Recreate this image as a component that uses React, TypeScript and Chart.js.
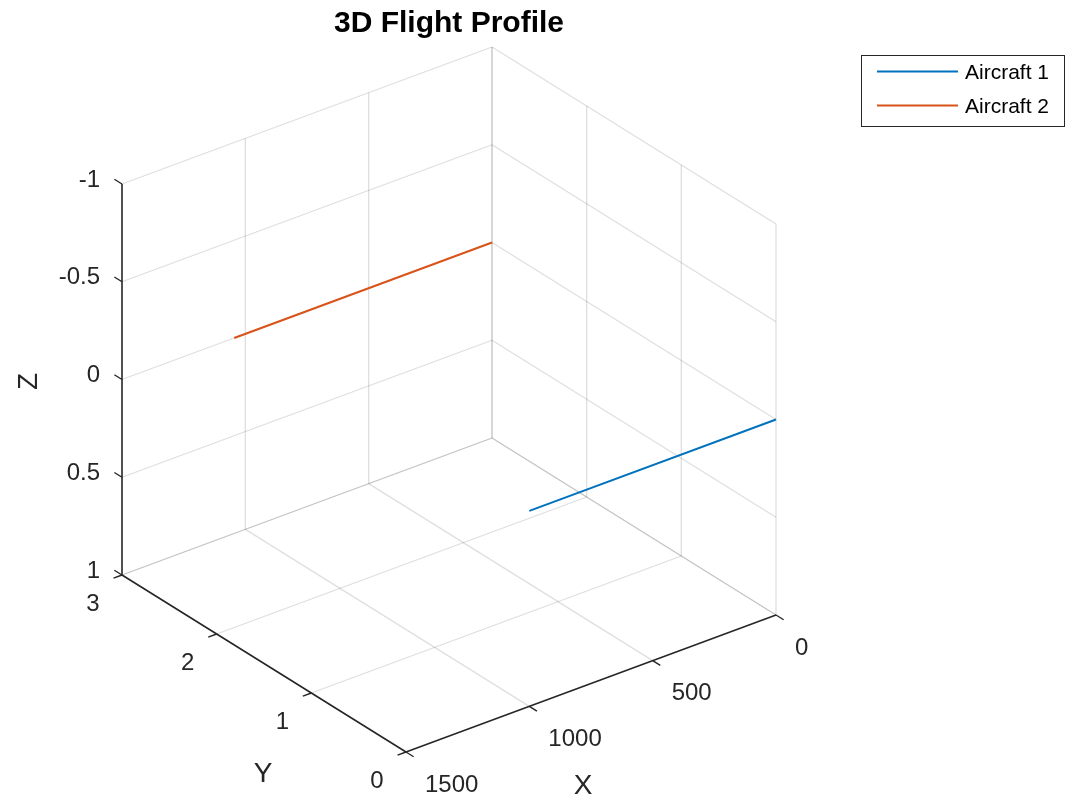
import React, { useEffect, useRef } from "react";
import { Chart, registerables } from "chart.js";

Chart.register(...registerables);

// ---------- data ----------
const chartTitle = "3D Flight Profile";
const xTicks = [0, 500, 1000, 1500];
const xTickLabels = ["0", "500", "1000", "1500"];
const yTicks = [0, 1, 2, 3];
const yTickLabels = ["0", "1", "2", "3"];
const zTicks = [-1, -0.5, 0, 0.5, 1];
const zTickLabels = ["-1", "-0.5", "0", "0.5", "1"];
const seriesNames = ["Aircraft 1", "Aircraft 2"];
const aircraft1X = [0, 1000];
const aircraft1Y = [0, 0];
const aircraft1Z = [0, 0];
const aircraft2X = [0, 1045];
const aircraft2Y = [3, 3];
const aircraft2Z = [0, 0];

// ---------- styling / view ----------
const W = 1070;
const H = 802;
const COLORS = ["#0072BD", "#D95319"];
const TEXT = "#262626";
const AXIS = "#262626";
const GRID = "rgba(38,38,38,0.15)";
const FONT = "'Liberation Sans', Arial, Helvetica, sans-serif";

const xLim = [0, 1500];
const yLim = [0, 3];
const zLim = [-1, 1];
// screen position of the back-bottom corner (x = xMin, y = yMax, z = zMax; z reversed)
const ORIGIN = [492, 438];
// screen displacement for the full span of each axis (from that corner)
const SPAN_X = [-370, 137];
const SPAN_Y = [284, 177];
const SPAN_Z = [0, -391];

function proj(X: number, Y: number, Z: number): [number, number] {
  const fx = (X - xLim[0]) / (xLim[1] - xLim[0]);
  const fy = (yLim[1] - Y) / (yLim[1] - yLim[0]);
  const fz = (zLim[1] - Z) / (zLim[1] - zLim[0]);
  return [
    ORIGIN[0] + fx * SPAN_X[0] + fy * SPAN_Y[0] + fz * SPAN_Z[0],
    ORIGIN[1] + fx * SPAN_X[1] + fy * SPAN_Y[1] + fz * SPAN_Z[1],
  ];
}

function toPoints(xs: number[], ys: number[], zs: number[]) {
  return xs.map((x, i) => {
    const [a, b] = proj(x, ys[i], zs[i]);
    return { x: a, y: b };
  });
}

function unit(v: number[]) {
  const l = Math.hypot(v[0], v[1]);
  return [v[0] / l, v[1] / l];
}

const axes3dPlugin = {
  id: "axes3d",
  beforeDatasetsDraw(chart: any) {
    const ctx: CanvasRenderingContext2D = chart.ctx;
    const sx = chart.scales.x;
    const sy = chart.scales.y;
    const P = (X: number, Y: number, Z: number) => {
      const [a, b] = proj(X, Y, Z);
      return [sx.getPixelForValue(a), sy.getPixelForValue(b)];
    };
    const seg = (p: number[], q: number[]) => {
      ctx.beginPath();
      ctx.moveTo(p[0], p[1]);
      ctx.lineTo(q[0], q[1]);
      ctx.stroke();
    };
    const [x0, x1] = xLim;
    const [y0, y1] = yLim;
    const [z0, z1] = zLim;
    ctx.save();
    // grid lines
    ctx.strokeStyle = GRID;
    ctx.lineWidth = 1.3;
    // back wall y = yMax
    xTicks.forEach((x) => { if (x !== x1) seg(P(x, y1, z0), P(x, y1, z1)); });
    zTicks.forEach((z) => seg(P(x0, y1, z), P(x1, y1, z)));
    // back wall x = xMin
    yTicks.forEach((y) => seg(P(x0, y, z0), P(x0, y, z1)));
    zTicks.forEach((z) => seg(P(x0, y0, z), P(x0, y1, z)));
    // floor z = zMax
    xTicks.forEach((x) => { if (x !== x1) seg(P(x, y0, z1), P(x, y1, z1)); });
    yTicks.forEach((y) => { if (y !== y0) seg(P(x0, y, z1), P(x1, y, z1)); });

    // axis lines
    ctx.strokeStyle = AXIS;
    ctx.lineWidth = 1.6;
    seg(P(x1, y1, z0), P(x1, y1, z1)); // Z axis
    seg(P(x1, y0, z1), P(x1, y1, z1)); // Y axis
    seg(P(x0, y0, z1), P(x1, y0, z1)); // X axis

    // tick marks
    const TL = 9;
    const a = P(x1, y1, z0), b = P(x1, y1 + 1, z0);
    const dirY = unit([b[0] - a[0], b[1] - a[1]]);
    const c = P(x1, y0, z1), d = P(x1 + 1, y0, z1);
    const dirX = unit([d[0] - c[0], d[1] - c[1]]);
    const dirYneg = [-dirY[0], -dirY[1]];
    ctx.lineWidth = 1.4;
    zTicks.forEach((z) => {
      const p = P(x1, y1, z);
      seg(p, [p[0] + dirY[0] * TL, p[1] + dirY[1] * TL]);
    });
    yTicks.forEach((y) => {
      const p = P(x1, y, z1);
      seg(p, [p[0] + dirX[0] * TL, p[1] + dirX[1] * TL]);
    });
    xTicks.forEach((x) => {
      const p = P(x, y0, z1);
      seg(p, [p[0] + dirYneg[0] * TL, p[1] + dirYneg[1] * TL]);
    });

    // tick labels
    ctx.fillStyle = TEXT;
    ctx.font = `24px ${FONT}`;
    ctx.textBaseline = "middle";
    ctx.textAlign = "right";
    zTicks.forEach((z, i) => {
      const p = P(x1, y1, z);
      ctx.fillText(zTickLabels[i], p[0] - 22, p[1] - 4);
    });
    ctx.textAlign = "center";
    yTicks.forEach((y, i) => {
      const p = P(x1, y, z1);
      ctx.fillText(yTickLabels[i], p[0] - 29, p[1] + 29);
    });
    ctx.textAlign = "left";
    xTicks.forEach((x, i) => {
      const p = P(x, y0, z1);
      ctx.fillText(xTickLabels[i], p[0] + 19, p[1] + 33);
    });

    // axis labels
    ctx.font = `28px ${FONT}`;
    ctx.textAlign = "center";
    const ym = P(x1, (y0 + y1) / 2, z1);
    ctx.fillText("Y", ym[0] - 1, ym[1] + 111);
    const xm = P((x0 + x1) / 2, y0, z1);
    ctx.fillText("X", xm[0] - 8, xm[1] + 103);
    const zm = P(x1, y1, (z0 + z1) / 2);
    ctx.save();
    ctx.translate(zm[0] - 93, zm[1] + 2);
    ctx.rotate(-Math.PI / 2);
    ctx.fillText("Z", 0, 0);
    ctx.restore();

    // title
    ctx.font = `bold 30px ${FONT}`;
    ctx.textAlign = "center";
    ctx.fillStyle = "#000";
    const left = P(x1, y1, z0)[0];
    const right = P(x0, y0, z0)[0];
    ctx.fillText(chartTitle, (left + right) / 2, 24);
    ctx.restore();
  },
  afterDraw(chart: any) {
    const ctx: CanvasRenderingContext2D = chart.ctx;
    ctx.save();
    const bx = 861.5, by = 55.5, bw = 203, bh = 71;
    ctx.fillStyle = "#fff";
    ctx.fillRect(bx, by, bw, bh);
    ctx.strokeStyle = AXIS;
    ctx.lineWidth = 1;
    ctx.strokeRect(bx, by, bw, bh);
    ctx.font = `21px ${FONT}`;
    ctx.textBaseline = "middle";
    ctx.textAlign = "left";
    chart.data.datasets.forEach((ds: any, i: number) => {
      const yy = by + 16 + i * 34;
      ctx.strokeStyle = ds.borderColor;
      ctx.lineWidth = 2;
      ctx.beginPath();
      ctx.moveTo(877, yy);
      ctx.lineTo(958, yy);
      ctx.stroke();
      ctx.fillStyle = "#000";
      ctx.fillText(ds.label, 965, yy + 2);
    });
    ctx.restore();
  },
};

export default function App() {
  const ref = useRef<HTMLCanvasElement | null>(null);
  useEffect(() => {
    if (!ref.current) return;
    const chart = new Chart(ref.current, {
      type: "scatter",
      data: {
        datasets: [
          {
            label: seriesNames[0],
            data: toPoints(aircraft1X, aircraft1Y, aircraft1Z),
            showLine: true,
            borderColor: COLORS[0],
            backgroundColor: COLORS[0],
            borderWidth: 2,
            pointRadius: 0,
          },
          {
            label: seriesNames[1],
            data: toPoints(aircraft2X, aircraft2Y, aircraft2Z),
            showLine: true,
            borderColor: COLORS[1],
            backgroundColor: COLORS[1],
            borderWidth: 2,
            pointRadius: 0,
          },
        ],
      },
      options: {
        animation: false,
        responsive: false,
        devicePixelRatio: 1,
        layout: { padding: 0 },
        scales: {
          x: { type: "linear", min: 0, max: W, display: false },
          y: { type: "linear", min: 0, max: H, reverse: true, display: false },
        },
        plugins: {
          legend: { display: false },
          title: { display: false },
          tooltip: { enabled: false },
        },
      },
      plugins: [axes3dPlugin],
    });
    return () => chart.destroy();
  }, []);
  return (
    <div style={{ position: "fixed", left: 0, top: 0, width: W, height: H, background: "#fff" }}>
      <canvas ref={ref} width={W} height={H} style={{ display: "block" }} />
    </div>
  );
}
